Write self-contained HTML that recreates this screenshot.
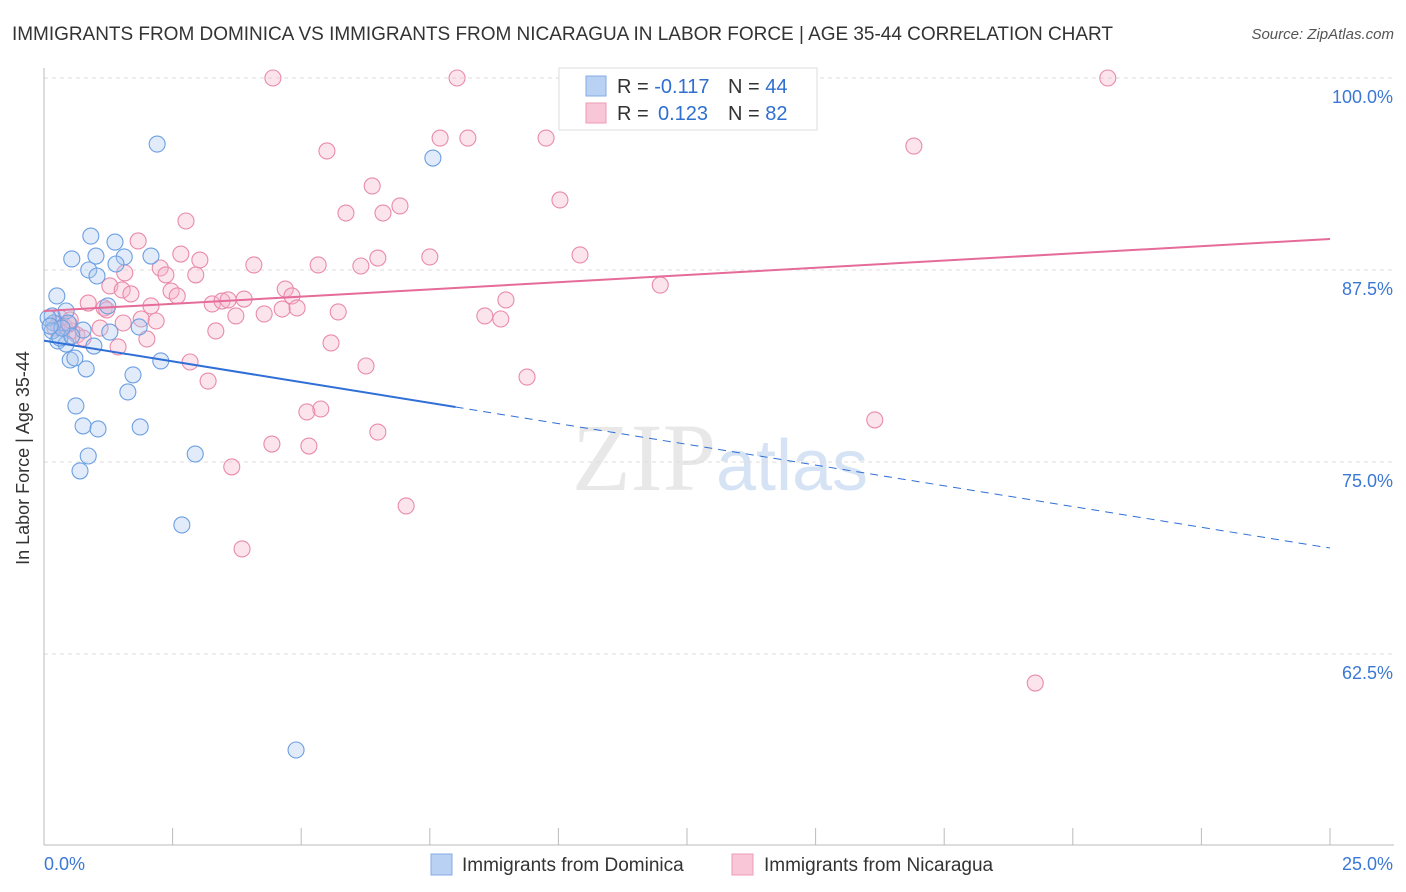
<!DOCTYPE html>
<html><head><meta charset="utf-8">
<style>
body{margin:0;background:#fff;font-family:"Liberation Sans",sans-serif;}
#wrap{position:relative;width:1406px;height:892px;overflow:hidden;}
</style></head>
<body>
<div id="wrap">
<svg id="chart" width="1406" height="892" xmlns="http://www.w3.org/2000/svg" font-family="Liberation Sans, sans-serif">
<text x="12" y="40" font-size="19" fill="#333" textLength="1101">IMMIGRANTS FROM DOMINICA VS IMMIGRANTS FROM NICARAGUA IN LABOR FORCE | AGE 35-44 CORRELATION CHART</text>
<text x="1394" y="39" font-size="15" fill="#555" font-style="italic" text-anchor="end">Source: ZipAtlas.com</text>
<text x="720" y="490" font-size="96" fill="#e8e8e8" text-anchor="middle" font-family="Liberation Serif, serif">ZIP<tspan fill="#d5e3f4" font-family="Liberation Sans, sans-serif" font-size="72">atlas</tspan></text>
<g id="grid"></g>
<g id="marks"></g>
<text x="29" y="458" font-size="18" fill="#333" text-anchor="middle" transform="rotate(-90 29 458)">In Labor Force | Age 35-44</text>
<g>
<rect x="559" y="68" width="258" height="62" fill="#fff" stroke="#ddd"/>
<rect x="586" y="76" width="20" height="20" fill="#b9d1f3" stroke="#86abe6"/>
<rect x="586" y="103" width="20" height="20" fill="#f8c6d6" stroke="#ee9bb6"/>
<text x="617" y="93" font-size="20" fill="#333">R = <tspan fill="#2f6fd0">-0.117</tspan><tspan x="728">N = </tspan><tspan fill="#2f6fd0">44</tspan></text>
<text x="617" y="120" font-size="20" fill="#333">R = <tspan x="658" fill="#2f6fd0">0.123</tspan><tspan x="728">N = </tspan><tspan fill="#2f6fd0">82</tspan></text>
</g>
<g>
<rect x="431" y="854" width="21" height="21" fill="#b9d1f3" stroke="#86abe6"/>
<text x="462" y="871" font-size="19" fill="#333">Immigrants from Dominica</text>
<rect x="732" y="854" width="21" height="21" fill="#f8c6d6" stroke="#ee9bb6"/>
<text x="764" y="871" font-size="19" fill="#333">Immigrants from Nicaragua</text>
</g>
</svg>
</div>
<script>
const yTicks=[100,87.5,75,62.5];
const yTickLabels=["100.0%","87.5%","75.0%","62.5%"];
const xTickLabels=["0.0%","25.0%"];
const blueX=[2.20,7.56,0.91,1.38,0.54,1.01,1.56,2.08,0.87,1.03,1.40,0.25,0.16,0.43,1.24,0.19,0.47,0.76,1.28,1.85,0.27,0.43,0.97,0.51,0.60,0.82,2.27,1.73,1.63,0.62,0.76,1.05,1.87,0.86,0.70,2.94,2.68,4.90,0.08,0.16,0.31,0.54,0.35,0.12];
const blueY=[95.70,94.79,89.71,89.32,88.22,88.41,88.35,88.41,87.50,87.11,87.89,85.81,84.51,84.83,85.16,84.05,84.05,83.59,83.46,83.79,82.88,82.68,82.55,81.64,81.77,81.06,81.58,80.67,79.56,78.65,77.35,77.15,77.28,75.39,74.42,75.52,70.90,56.25,84.38,83.53,83.07,83.20,83.72,83.85];
const pinkX=[4.45,8.03,20.68,5.50,7.70,8.24,9.76,16.91,6.38,5.87,6.59,6.92,10.03,2.76,1.83,2.66,3.03,4.08,5.33,6.16,6.49,7.50,10.42,1.57,2.26,2.37,2.95,1.28,1.52,1.69,2.47,2.59,4.69,4.82,11.98,0.86,1.17,1.22,2.08,3.27,3.46,3.58,3.89,4.28,3.73,4.63,4.92,5.72,8.57,8.88,8.98,1.54,1.89,2.18,3.34,2.00,1.44,5.58,0.54,0.64,0.27,0.39,0.49,2.84,3.19,6.26,9.39,5.38,5.11,6.49,4.43,5.15,16.15,3.65,7.04,3.85,19.27,0.31,0.76,1.09,0.21,0.51];
const pinkY=[100,100,100,95.25,96.09,96.09,96.09,95.57,92.97,91.21,91.21,91.67,92.06,90.69,89.39,88.54,88.15,87.83,87.83,87.76,88.28,88.35,88.48,87.31,87.63,87.18,87.18,86.46,86.20,85.94,86.13,85.81,86.26,85.81,86.52,85.35,85.03,84.90,85.16,85.29,85.48,85.55,85.61,84.64,84.51,84.96,85.03,84.77,84.51,84.31,85.55,84.05,84.31,84.18,83.53,83.01,82.49,82.75,83.53,83.27,83.98,83.85,83.98,81.51,80.27,81.25,80.53,78.45,78.26,76.95,76.17,76.04,77.74,74.68,72.14,69.34,60.61,84.38,83.07,83.72,83.72,84.25];
const blueTrend=[82.9,69.4];
const blueSolidEnd=8.0;
const pinkTrend=[84.83,89.52];

const NS="http://www.w3.org/2000/svg";
const X0=44,X1=1330;
function sx(v){return X0+(v/25)*(X1-X0);}
function sy(v){return 78+(100-v)/12.5*192;}
function mk(tag,attrs,parent){const e=document.createElementNS(NS,tag);for(const k in attrs)e.setAttribute(k,attrs[k]);parent.appendChild(e);return e;}
const grid=document.getElementById('grid'),marks=document.getElementById('marks');
yTicks.forEach((t,i)=>{
  const l=mk('line',{x1:X0,x2:1394,y1:sy(t),y2:sy(t),stroke:'#ddd','stroke-dasharray':'4,4'},grid);
  
  
  const tx=mk('text',{x:1393,y:sy(t)+25,'font-size':18,fill:'#3b78d4','text-anchor':'end'},grid);
  tx.textContent=yTickLabels[i];
  
  
});
const ax=mk('line',{x1:X0,x2:X0,y1:68,y2:845,stroke:'#bbb'},grid);


const bx=mk('line',{x1:X0,x2:1394,y1:845,y2:845,stroke:'#bbb'},grid);


for(let i=0;i<=10;i++){
  const t=mk('line',{x1:sx(i*2.5),x2:sx(i*2.5),y1:828,y2:845,stroke:'#bbb'},grid);
  
  
}
[[0,'start',44],[25,'end',1393]].forEach((a,i)=>{
  const tx=mk('text',{x:a[2],y:870,'font-size':18,fill:'#3b78d4','text-anchor':a[1]},grid);
  tx.textContent=xTickLabels[i];
  
  
});
function dots(xs,ys,fill,stroke,name){
  xs.forEach((x,i)=>{
    const c=mk('circle',{cx:sx(x),cy:sy(ys[i]),r:8,fill:fill,'fill-opacity':0.35,stroke:stroke,'stroke-width':1.1},marks);
    
    
  });
}
dots(pinkX,pinkY,'#f5b3c8','#e98aaa','nicaragua-point');
dots(blueX,blueY,'#a9c7ef','#6b9fe2','dominica-point');
const bs=blueTrend[0]+(blueTrend[1]-blueTrend[0])*blueSolidEnd/25;
const l1=mk('line',{x1:sx(0),y1:sy(blueTrend[0]),x2:sx(blueSolidEnd),y2:sy(bs),stroke:'#2f6fd6','stroke-width':2},marks);


const l2=mk('line',{x1:sx(blueSolidEnd),y1:sy(bs),x2:sx(25),y2:sy(blueTrend[1]),stroke:'#2f6fd6','stroke-width':1,'stroke-dasharray':'8,6'},marks);


const l3=mk('line',{x1:sx(0),y1:sy(pinkTrend[0]),x2:sx(25),y2:sy(pinkTrend[1]),stroke:'#e56b98','stroke-width':2},marks);


</script>
</body></html>
